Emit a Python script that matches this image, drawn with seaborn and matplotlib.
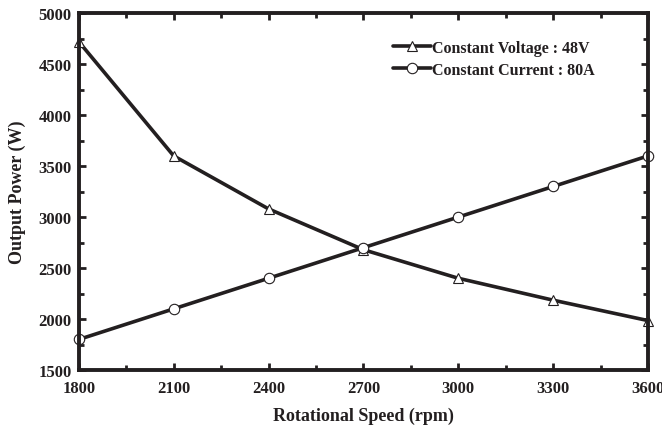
import matplotlib
matplotlib.use("Agg")
import matplotlib.pyplot as plt
import seaborn as sns
import pandas as pd
from matplotlib.ticker import MultipleLocator, AutoMinorLocator

speed = [1800, 2100, 2400, 2700, 3000, 3300, 3600]
voltage_power = [4720, 3600, 3080, 2680, 2400, 2185, 1985]
current_power = [1800, 2100, 2400, 2700, 3000, 3300, 3600]
labels = ["Constant Voltage : 48V", "Constant Current : 80A"]

INK = "#231f20"

sns.set_theme(style="white")
plt.rcParams['font.family'] = ['Liberation Serif', 'DejaVu Serif']
plt.rcParams['font.weight'] = 'bold'

df = pd.DataFrame({
    "speed": speed * 2,
    "power": voltage_power + current_power,
    "series": [labels[0]] * len(speed) + [labels[1]] * len(speed),
})

fig = plt.figure(figsize=(6.62, 4.27), dpi=100)
ax = fig.add_axes([0.119, 0.131, 0.860, 0.836])

sns.lineplot(data=df, x="speed", y="power", hue="series", style="series",
             markers={labels[0]: "^", labels[1]: "o"}, dashes=False,
             palette={labels[0]: INK, labels[1]: INK},
             linewidth=2.6, markersize=7.5, markerfacecolor="white",
             markeredgecolor=INK, markeredgewidth=0.8, ax=ax, clip_on=False)

ax.set_xlim(1800, 3600)
ax.set_ylim(1500, 5000)
ax.xaxis.set_major_locator(MultipleLocator(300))
ax.yaxis.set_major_locator(MultipleLocator(500))
ax.xaxis.set_minor_locator(AutoMinorLocator(2))
ax.yaxis.set_minor_locator(AutoMinorLocator(2))
ax.tick_params(which="both", direction="in", top=True, right=True, bottom=True, left=True,
               color=INK, labelsize=12, labelcolor=INK)
ax.tick_params(axis="x", pad=7)
ax.tick_params(axis="y", pad=5)
ax.tick_params(which="major", length=5, width=2)
ax.tick_params(which="minor", length=3.5, width=2)
for lbl in ax.get_xticklabels() + ax.get_yticklabels():
    lbl.set_fontweight("bold")
for s in ax.spines.values():
    s.set_linewidth(2.8)
    s.set_color(INK)

ax.set_xlabel("Rotational Speed (rpm)", fontsize=13, fontweight="bold", color=INK, labelpad=8)
ax.set_ylabel("Output Power (W)", fontsize=13, fontweight="bold", color=INK, labelpad=9)

leg = ax.legend(loc="upper left", bbox_to_anchor=(0.552, 0.925), frameon=False,
                prop={"family": "Liberation Serif", "weight": "bold", "size": 11.5},
                handlelength=2.4, handletextpad=0.05, labelspacing=0.38,
                borderaxespad=0, borderpad=0)
for t in leg.get_texts():
    t.set_color(INK)

fig.savefig("out.png", dpi=100)
